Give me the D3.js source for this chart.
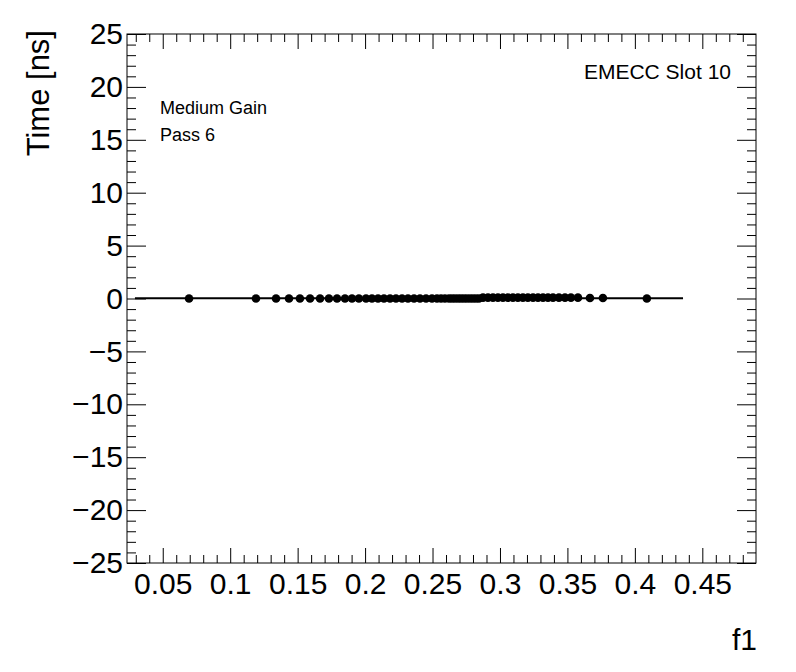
<!DOCTYPE html>
<html>
<head>
<meta charset="utf-8">
<script src="https://cdn.jsdelivr.net/npm/d3@7"></script>
<style>
body { margin: 0; background: #fff; }
svg { font-family: "Liberation Sans", Arial, sans-serif; }
.axis path { display: none; }
.axis line { stroke: #000; }
</style>
</head>
<body>
<svg width="796" height="672"></svg>
<script>
var svg = d3.select('svg');

// f1 values of the points
const f1 = [0.0695, 0.1191, 0.1340, 0.1436, 0.1517, 0.1592, 0.1666, 0.1732, 0.1792, 0.1851,
    0.1903, 0.1954, 0.2007, 0.2051, 0.2096, 0.2140, 0.2185, 0.2229, 0.2274, 0.2318,
    0.2363, 0.2407, 0.2452, 0.2496, 0.2533, 0.2563, 0.2592, 0.2622, 0.2644, 0.2666,
    0.2689, 0.2711, 0.2733, 0.2755, 0.2778, 0.2800, 0.2822, 0.2844, 0.2874, 0.2911,
    0.2948, 0.2985, 0.3022, 0.3059, 0.3096, 0.3133, 0.3170, 0.3207, 0.3245, 0.3282,
    0.3319, 0.3356, 0.3393, 0.3437, 0.3482, 0.3526, 0.3578, 0.3667, 0.3763, 0.4089];
// time values (ns)
const time = [0, 0, 0, 0, 0, 0, 0, 0, 0, 0,
    0, 0, 0, 0, 0, 0, 0, 0, 0, 0,
    0, 0, 0, 0, 0, 0, 0, 0, 0, 0,
    0, 0, 0, 0, 0, 0, 0, 0, 0.08, 0.08,
    0.08, 0.08, 0.08, 0.08, 0.08, 0.08, 0.08, 0.08, 0.08, 0.08,
    0.08, 0.08, 0.08, 0.08, 0.08, 0.08, 0.08, 0.05, 0.05, 0];
// fitted line
const fitX = [0.0294, 0.4357];
const fitY = [0.03, 0.03];

const xMajor = [0.05, 0.1, 0.15, 0.2, 0.25, 0.3, 0.35, 0.4, 0.45];
const yMajor = [-25, -20, -15, -10, -5, 0, 5, 10, 15, 20, 25];

var frameL = 127, frameR = 756, frameT = 34, frameB = 563;

var x = d3.scaleLinear().domain([0.0235, 0.4898]).range([frameL, frameR]);
var y = d3.scaleLinear().domain([-25, 25]).range([frameB, frameT]);

var xMinor = d3.range(3, 49).map(d => d / 100).filter(d => !xMajor.some(m => Math.abs(m - d) < 1e-6));
var yMinor = d3.range(-25, 26).filter(d => d % 5 !== 0);

// frame
svg.append('rect')
    .attr('x', frameL).attr('y', frameT)
    .attr('width', frameR - frameL).attr('height', frameB - frameT)
    .attr('fill', 'none').attr('stroke', '#000');

// bottom axis
svg.append('g').attr('class', 'axis')
    .attr('transform', `translate(0,${frameB})`)
    .call(d3.axisBottom(x).tickValues(xMajor).tickSizeInner(-15).tickSizeOuter(0)
        .tickPadding(10).tickFormat(d3.format('')))
    .selectAll('text').style('font-size', '30px').attr('fill', '#000');
svg.append('g').attr('class', 'axis')
    .attr('transform', `translate(0,${frameB})`)
    .call(d3.axisBottom(x).tickValues(xMinor).tickSizeInner(-8).tickSizeOuter(0).tickFormat(''));

// top axis
svg.append('g').attr('class', 'axis')
    .attr('transform', `translate(0,${frameT})`)
    .call(d3.axisTop(x).tickValues(xMajor).tickSizeInner(-15).tickSizeOuter(0).tickFormat(''));
svg.append('g').attr('class', 'axis')
    .attr('transform', `translate(0,${frameT})`)
    .call(d3.axisTop(x).tickValues(xMinor).tickSizeInner(-8).tickSizeOuter(0).tickFormat(''));

// left axis
svg.append('g').attr('class', 'axis')
    .attr('transform', `translate(${frameL},0)`)
    .call(d3.axisLeft(y).tickValues(yMajor).tickSizeInner(-19).tickSizeOuter(0)
        .tickPadding(4))
    .selectAll('text').style('font-size', '30px').attr('fill', '#000');
svg.append('g').attr('class', 'axis')
    .attr('transform', `translate(${frameL},0)`)
    .call(d3.axisLeft(y).tickValues(yMinor).tickSizeInner(-9).tickSizeOuter(0).tickFormat(''));

// right axis
svg.append('g').attr('class', 'axis')
    .attr('transform', `translate(${frameR},0)`)
    .call(d3.axisRight(y).tickValues(yMajor).tickSizeInner(-19).tickSizeOuter(0).tickFormat(''));
svg.append('g').attr('class', 'axis')
    .attr('transform', `translate(${frameR},0)`)
    .call(d3.axisRight(y).tickValues(yMinor).tickSizeInner(-9).tickSizeOuter(0).tickFormat(''));

svg.selectAll('.axis').attr('font-family', null);

// fit line
svg.append('path')
    .datum(d3.zip(fitX, fitY))
    .attr('d', d3.line().x(d => x(d[0])).y(d => y(d[1])))
    .attr('stroke', '#000').attr('stroke-width', 2).attr('fill', 'none');

// points
svg.append('g').selectAll('circle')
    .data(d3.zip(f1, time))
    .enter().append('circle')
    .attr('cx', d => x(d[0]))
    .attr('cy', d => y(d[1]))
    .attr('r', 4.3)
    .attr('fill', '#000');

// titles
svg.append('text')
    .attr('transform', 'translate(49,30) rotate(-90)')
    .attr('text-anchor', 'end')
    .style('font-size', '31px')
    .text('Time [ns]');

svg.append('text')
    .attr('x', 757).attr('y', 650)
    .attr('text-anchor', 'end')
    .style('font-size', '30px')
    .text('f1');

svg.append('text')
    .attr('x', 731).attr('y', 79)
    .attr('text-anchor', 'end')
    .style('font-size', '21px')
    .text('EMECC Slot 10');

svg.append('text')
    .attr('x', 160).attr('y', 114)
    .style('font-size', '18px')
    .text('Medium Gain');

svg.append('text')
    .attr('x', 160).attr('y', 141)
    .style('font-size', '18px')
    .text('Pass 6');
</script>
</body>
</html>
